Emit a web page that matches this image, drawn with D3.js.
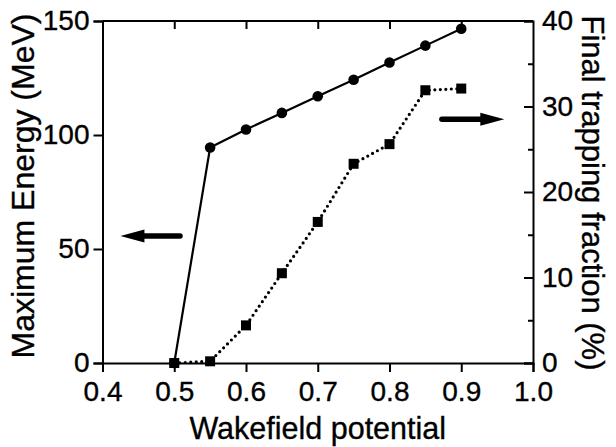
<!DOCTYPE html>
<html>
<head>
<meta charset="utf-8">
<script src="https://cdn.jsdelivr.net/npm/d3@7"></script>
<style>
  body { margin: 0; background: #fff; }
  svg text { font-family: "Liberation Sans", Arial, Helvetica, sans-serif; fill: #000; stroke: #000; stroke-width: 0.35px; }
</style>
</head>
<body>
<div id="chart"></div>
<script>
// ---- data ----
const potential = [0.5, 0.55, 0.6, 0.65, 0.7, 0.75, 0.8, 0.85, 0.9];
const maxEnergy = [0, 94.5, 102.4, 109.7, 117, 124.2, 131.8, 139.2, 146.6];
const trapFraction = [0, 0.2, 4.4, 10.5, 16.5, 23.3, 25.6, 31.9, 32.1];

const xTicks = [0.4, 0.5, 0.6, 0.7, 0.8, 0.9, 1.0];
const xTopTicks = [0.5, 0.6, 0.7, 0.8, 0.9];
const leftTicks = [0, 50, 100, 150];
const rightTicks = [0, 10, 20, 30, 40];
const rightMinor = [5, 15, 25, 35];

// arrows pointing to their axes (data units)
const leftArrow = { x0: 0.508, x1: 0.425, y: 55.7 };
const rightArrow = { x0: 0.873, x1: 0.96, y: 28.5 };

const width = 616, height = 447;
const margin = { top: 21, right: 83, bottom: 84, left: 102.5 };

const svg = d3.select('#chart').append('svg')
    .attr('width', width)
    .attr('height', height);

const x = d3.scaleLinear().domain([0.4, 1.0]).range([margin.left, width - margin.right]);
const yL = d3.scaleLinear().domain([0, 150]).range([height - margin.bottom, margin.top]);
const yR = d3.scaleLinear().domain([0, 40]).range([height - margin.bottom, margin.top]);

const fmt = d3.format('.1f');

// axes
const gBottom = svg.append('g')
    .attr('transform', `translate(0,${height - margin.bottom})`)
    .call(d3.axisBottom(x).tickValues(xTicks).tickFormat(fmt).tickSize(9).tickPadding(9));

const gTop = svg.append('g')
    .attr('transform', `translate(0,${margin.top})`)
    .call(d3.axisTop(x).tickValues(xTopTicks).tickFormat('').tickSize(-8));

const gLeft = svg.append('g')
    .attr('transform', `translate(${margin.left},0)`)
    .call(d3.axisLeft(yL).tickValues(leftTicks).tickSize(9).tickPadding(4));

const gRight = svg.append('g')
    .attr('transform', `translate(${width - margin.right},0)`)
    .call(d3.axisRight(yR).tickValues(rightTicks).tickSize(-9).tickPadding(9));

const gRightMinor = svg.append('g')
    .attr('transform', `translate(${width - margin.right},0)`)
    .call(d3.axisRight(yR).tickValues(rightMinor).tickFormat('').tickSize(-5));

[gBottom, gTop, gLeft, gRight, gRightMinor].forEach(g => {
    g.selectAll('.domain').attr('stroke', '#000').attr('stroke-width', 2);
    g.selectAll('.tick line').attr('stroke', '#000').attr('stroke-width', 2);
    g.selectAll('.tick text').style('font-size', '28px');
});
gTop.select('.domain').attr('d', `M${x(0.4)},0H${x(1.0)}`);
gRightMinor.select('.domain').remove();

// data lines
const energyLine = d3.line()
    .x((d, i) => x(potential[i]))
    .y(d => yL(d));

const trapLine = d3.line()
    .x((d, i) => x(potential[i]))
    .y(d => yR(d));

svg.append('path')
    .datum(maxEnergy)
    .attr('d', energyLine)
    .attr('fill', 'none')
    .attr('stroke', '#000')
    .attr('stroke-width', 2.2);

svg.append('path')
    .datum(trapFraction)
    .attr('d', trapLine)
    .attr('fill', 'none')
    .attr('stroke', '#000')
    .attr('stroke-width', 3.2)
    .attr('stroke-linecap', 'round')
    .attr('stroke-dasharray', '0 5.5');

svg.selectAll('circle.energy')
    .data(maxEnergy)
    .enter().append('circle')
    .attr('class', 'energy')
    .attr('cx', (d, i) => x(potential[i]))
    .attr('cy', d => yL(d))
    .attr('r', 5.3)
    .attr('fill', '#000');

const sq = 10;
svg.selectAll('rect.trap')
    .data(trapFraction)
    .enter().append('rect')
    .attr('class', 'trap')
    .attr('x', (d, i) => x(potential[i]) - sq / 2)
    .attr('y', d => yR(d) - sq / 2)
    .attr('width', sq)
    .attr('height', sq)
    .attr('fill', '#000');

// arrows
function drawArrow(a, yScale) {
    const xs = x(a.x0), xe = x(a.x1), yy = yScale(a.y);
    const dir = Math.sign(xe - xs);
    const headLen = 24, headHalf = 6.5;
    svg.append('line')
        .attr('x1', xs).attr('y1', yy)
        .attr('x2', xe - dir * headLen + dir * 2).attr('y2', yy)
        .attr('stroke', '#000')
        .attr('stroke-width', 5.5)
        .attr('stroke-linecap', 'round');
    svg.append('path')
        .attr('d', `M${xe},${yy}L${xe - dir * headLen},${yy - headHalf}L${xe - dir * headLen},${yy + headHalf}Z`)
        .attr('fill', '#000');
}
drawArrow(leftArrow, yL);
drawArrow(rightArrow, yR);

// titles
svg.append('text')
    .attr('x', (x(0.4) + x(1.0)) / 2)
    .attr('y', 439)
    .attr('text-anchor', 'middle')
    .style('font-size', '30.5px')
    .text('Wakefield potential');

svg.append('text')
    .attr('transform', 'translate(34,186) rotate(-90)')
    .attr('text-anchor', 'middle')
    .style('font-size', '32px')
    .text('Maximum Energy (MeV)');

svg.append('text')
    .attr('transform', 'translate(582,193) rotate(90)')
    .attr('text-anchor', 'middle')
    .style('font-size', '31px')
    .text('Final trapping fraction (%)');
</script>
</body>
</html>
